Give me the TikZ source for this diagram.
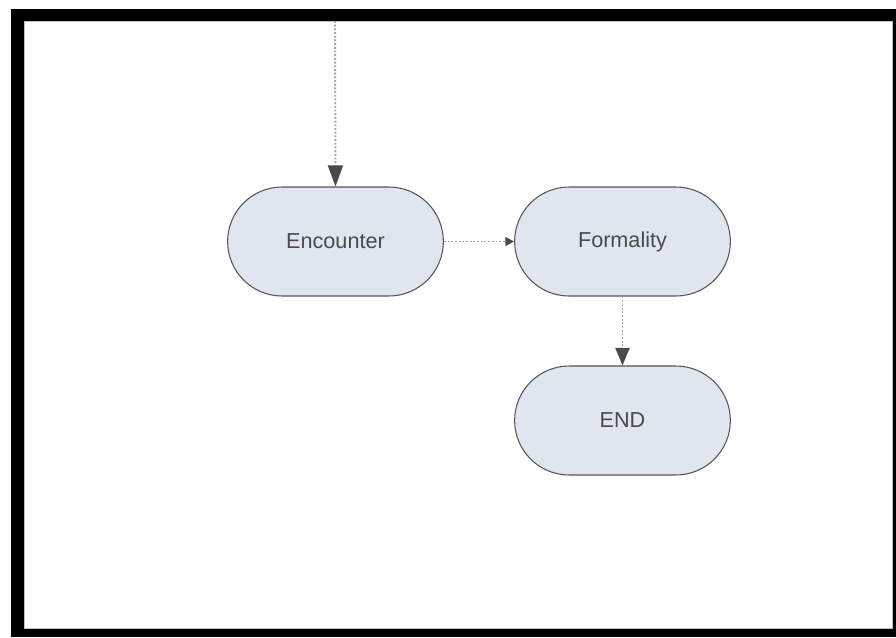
\documentclass[tikz,border=0pt]{standalone}
\usepackage{fontspec}
\setmainfont{Liberation Sans}
\usetikzlibrary{shapes.misc,arrows.meta}
\definecolor{etatfond}{HTML}{E0E6F0}
\definecolor{etatbord}{HTML}{555555}
\definecolor{fleche}{HTML}{A8A8A8}
\definecolor{pointe}{HTML}{4A4A4A}
\tikzset{
    etat/.style={rounded rectangle, draw=etatbord, fill=etatfond, line width=0.6pt,
      minimum width=4.55cm, minimum height=2.18cm, text=pointe,
      font=\fontsize{12.3}{14}\selectfont},
    lien/.style={draw=fleche, densely dotted, line width=1.1pt},
  }
\begin{document}
\begin{tikzpicture}[x=0.02cm,y=-0.02cm]
			          %cadre noir autour du diagramme
			          %pixels : x vers la droite, y vers le bas
				  \useasboundingbox (0,0) rectangle (896,637);
				  \fill (11,9) rectangle (896,637);
				  \filldraw[fill=white, draw=black!25, line width=0.4pt] (24,21) rectangle (892.5,628);
				  
				  \coordinate (in) at (335,21);
				  \node[etat] (enc) at (335.5,241.5) {Encounter};
				  \node[etat] (form) at (622.5,241.5) {Formality};
				  \node[etat] (fin) at (622.5,420.5) {END};
				  \draw[lien, -{Triangle[length=12pt, width=8.5pt, color=pointe]}] (in) -- (enc.north);
				  \draw[lien, -{Triangle[length=5pt, width=5pt, color=pointe]}] (enc.east) -- (form.west);
				  \draw[lien, -{Triangle[length=10pt, width=8pt, color=pointe]}] (form.south) -- (fin.north);
				  \end{tikzpicture}
\end{document}
